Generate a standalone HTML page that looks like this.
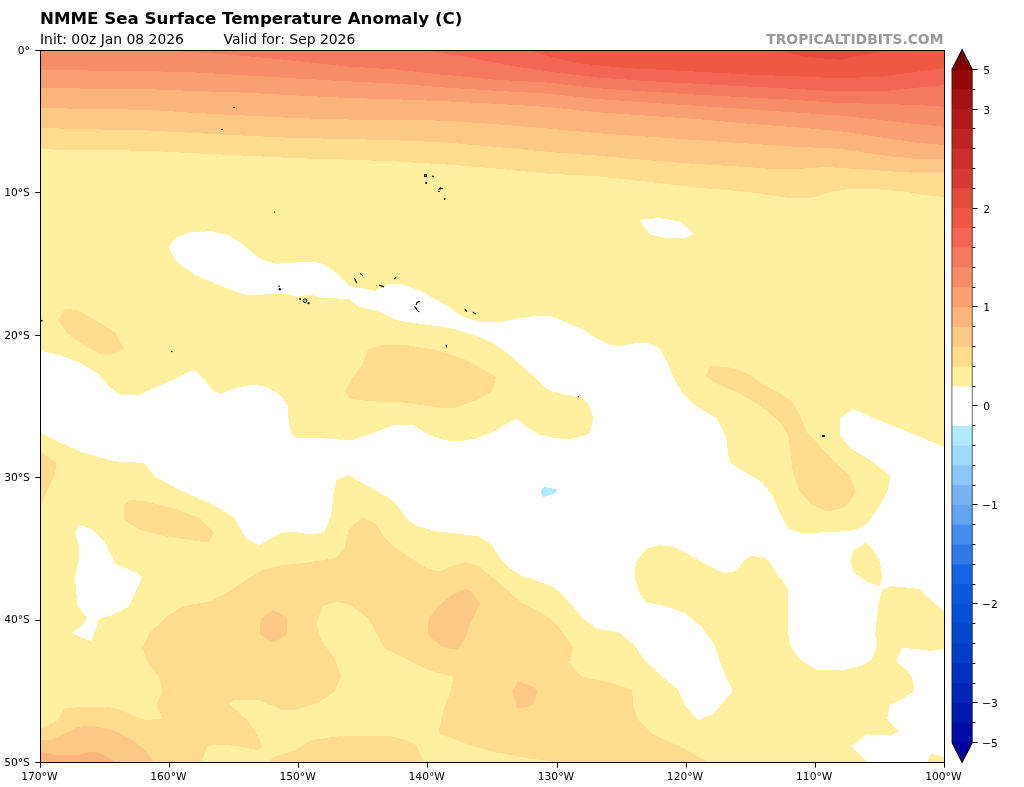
<!DOCTYPE html>
<html><head><meta charset="utf-8"><title>NMME Sea Surface Temperature Anomaly (C)</title>
<style>
html,body{margin:0;padding:0;background:#fff;}
body{width:1024px;height:787px;overflow:hidden;position:relative;font-family:"DejaVu Sans","Liberation Sans",sans-serif;color:#000;}
svg{position:absolute;left:0;top:0;display:block}
text{font-family:"DejaVu Sans","Liberation Sans",sans-serif;fill:#000}
.t{font-size:16.67px;font-weight:bold}
.s{font-size:13.9px}
.k{font-size:10.7px}
.w{font-size:13.9px;font-weight:bold;fill:#999}
</style></head><body>
<svg width="1024" height="787" viewBox="0 0 1024 787">
<defs><clipPath id="c"><rect x="40.5" y="50.5" width="904" height="712"/></clipPath></defs>
<rect width="1024" height="787" fill="#fff"/>
<g clip-path="url(#c)">
<rect x="40" y="50" width="905" height="713" fill="#FFF0A0"/>
<path d="M35,45 35,149.4 40,149.4 88.7,149.8 147,150.8 197,153.3 246,155.7 295,158.2 348,159.6 397,161.5 446,164.5 495,168.4 548,173.7 597,176.2 646,181.5 695,187.4 748,191.9 771.5,195.4 791,198.3 806.7,198.3 816.5,196.6 830,192 846,189.5 875,189 904.5,191.5 924,195 944,197 950,197 950,45Z" fill="#FEDC8E" shape-rendering="crispEdges"/>
<path d="M35,45 35,127.9 40,127.9 88.7,129.3 147,130.4 197,133.2 246,135.7 295,138 348,139 397,140.4 446,142.4 495,146.9 548,151.8 597,155.7 646,160 695,163.9 748,167.1 773,169 797,169 826,167 865,169.5 904.5,172.4 944,173.2 950,173.2 950,45Z" fill="#FBC885" shape-rendering="crispEdges"/>
<path d="M35,45 35,107.7 40,107.7 88.7,109.1 147,109.7 197,113 246,115.6 295,118.1 348,119.5 397,119.5 446,120.8 495,124 548,128.5 597,133.2 646,136.5 695,140 748,143.5 797,146.9 840,148.8 885,155.7 914,158.6 944,159.5 950,159.5 950,45Z" fill="#FBB47C" shape-rendering="crispEdges"/>
<path d="M35,45 35,87.6 40,87.6 88.7,88.7 147,89.1 197,91.1 246,92.7 295,95.4 348,98 397,99.3 446,101.3 495,103.8 548,107 597,112.2 646,115.6 695,118.9 748,123.7 797,127.3 840,131.2 885,138 914,142.4 944,145 950,145 950,45Z" fill="#F9A072" shape-rendering="crispEdges"/>
<path d="M35,45 35,69.6 40,69.6 88.7,70.5 147,71.1 197,72.5 246,75.4 295,78.4 348,81.3 397,83.7 446,87.6 495,90.7 548,93.7 597,99 646,102.4 695,105.8 748,109.2 797,112.6 840,115.5 885,120.5 914,124 944,126.7 950,126.7 950,45Z" fill="#F68D68" shape-rendering="crispEdges"/>
<path d="M150,45 150,45 158,50 226,54.3 285,59.8 348,66.6 397,69.6 446,75 495,79.7 548,82.6 597,88.2 646,91.5 695,94.6 748,97.5 797,100 840,103 885,104 914,105 944,106.7 950,106.7 950,45Z" fill="#F5795E" shape-rendering="crispEdges"/>
<path d="M415,45 415,45 424,50 465.4,56.8 504.5,64.7 548,71.5 597,77.4 646,81 695,83.7 748,86.5 797,89 840,91.5 885,91 914,88 944,85 950,85 950,45Z" fill="#F36654" shape-rendering="crispEdges"/>
<path d="M515,45 515,45 528,50 548,56 577,63.3 626,68 685,71 748,74.5 797,76.4 840,78.4 885,76.4 914,72 944,68 950,68 950,45Z" fill="#EF5842" shape-rendering="crispEdges"/>
<path d="M770,45 777,50 807,57 840,60 857.5,56 893,50 900,45Z" fill="#E24C3B" shape-rendering="crispEdges"/>
<path d="M168.8,247.5 176.3,237.5 190,232 212.5,231.3 227.5,235 240,242.5 260,258.8 275,263.8 296,262.5 316,261.8 326,265.5 338.5,275 349.4,285.9 360.2,287.7 370.8,290 375.5,290.9 379,289.1 388.9,284.2 401.2,284.2 405,285 421,291.3 446,305 463.5,317 481,322.5 501,322 521,318 538.5,315.5 552,316.5 564.5,322 582,328.8 597,338.8 609.5,344.5 619.5,346.3 634.5,343.3 648.3,343 660,348.8 668.3,365 674.5,380 682,392.5 694.5,405 717,418.8 725.8,436.3 729.5,462.5 762,482.5 772,495 779.1,511.5 788.3,528.6 802,533.2 831.8,532.1 854.6,530.2 867.2,524.1 879.8,505.8 887.8,490.9 890.5,476 870.6,460 851.2,448.6 839.8,434.9 839.9,418.4 853.2,409.1 884.1,422.5 915,434.9 950,449.5 950,616 944.8,612.1 919.1,589 891.8,585.9 882.3,589.5 878.8,601.4 875.2,634.6 876.9,646.5 871.6,659.6 862.1,665.5 843.1,670.3 817,670.3 801.6,660.8 790.9,647.7 788.5,634.6 788,589.5 782.6,580 778.3,576.8 772,565 764.5,557.5 752,555.8 744.5,560 737,570.5 724.5,573.3 709.5,566.3 692,556.3 674.5,547 659.5,545 645.8,548.8 635.8,562.5 634.5,576.8 638.3,591.3 645.8,602.5 664.5,606.3 684.5,612.5 702,627.5 714.5,645 722,667.5 732.8,691.3 713.3,713.8 698.3,720 685.8,706.3 678.3,690 662,676.3 644.5,660 634.5,645 619.5,632.5 597,628.8 582,617.5 562,593.8 552,586.3 531,578.8 523.5,576.8 508.5,567.5 501,560 492.3,545 478.5,536.3 458.5,533.8 436,531.3 416,525.5 407.3,519.5 398.5,507.5 388.5,497.5 368.5,486.3 348.5,475 336.5,480 334,490 331,516.3 323.5,532 311,534.5 296,532 282.5,532 259.5,545 246.3,538.8 235,518.8 222.5,510 202.5,500 180,490 155,476.3 143.8,463 115,461.3 82.5,452.5 60,442.5 35,430 35,349.4 40,350.6 60,355.5 80,363 97.5,373.2 110,387.5 120,394.5 137.5,395.5 152.5,388.8 170,381.3 182.5,375 193.8,370 202.5,377.5 212.5,390 220,393.8 237.5,387.5 252.5,384.5 265,386.3 280,395 287.5,405 288.8,422.5 291.3,433.8 296,437.5 321,438 351,440.5 371,433.8 396,424.5 413.5,425.5 428.5,434.5 443.5,440 456,441.3 476,438.8 493.5,432 506,423.8 517.3,418.8 526,426.3 538.5,434.5 552,437.5 569.5,439.5 589.5,433.8 593.3,418.8 588.3,403.8 579.5,396.3 567,395 552,391.3 543.5,386.3 533.5,376.3 521,365 508.5,353.8 491,342 471,333.8 453.5,328.8 421,323.8 396,320 378.5,311.3 358.5,306.3 349.8,299.5 328.5,297.6 322.7,297.9 313,295.3 306,295.2 298,297 290,295 284,293.4 280,293.8 265,294.5 245,294.5 225,287.5 195,275 176,261Z" fill="#FFFFFF" shape-rendering="crispEdges"/>
<path d="M950,648.5 944.8,648.9 931,650.8 902.5,647.7 895.9,662 904.9,667.9 912,677.4 914.4,690.5 902.5,698.8 890.2,704.7 887.1,719 899,732 890.6,735.6 866.9,734.4 851.4,746.3 866.9,761.7 872,768 925,768 927.5,761.7 931,753.9 944.8,757 950,758Z" fill="#FFFFFF" shape-rendering="crispEdges"/>
<path d="M640,220.8 645.8,218.8 659.5,218.3 679.5,221.3 693.8,233.8 684.5,238.3 664.5,237.5 649.5,234.3Z" fill="#FFFFFF" shape-rendering="crispEdges"/>
<path d="M78.8,525 91.3,528.8 105,542.5 115,563.8 127.5,568.8 142,576.3 136.3,590 128.8,606.3 112.5,615 98.8,618.8 91.3,641.3 71.3,633 80,627.5 87.5,618.8 77.5,605 75,577.5 78.8,560 79.5,546.3 75,533.8Z" fill="#FFFFFF" shape-rendering="crispEdges"/>
<path d="M866.1,542.4 853.5,550.4 850.1,561.8 854.6,573.3 866.1,581.3 879.8,586.5 882.5,575.5 879.8,561.8 872.9,549.2Z" fill="#FFF0A0" shape-rendering="crispEdges"/>
<path d="M541.1,490.3 544.1,487.2 546,487.2 551,488.3 555.8,489.3 557,490.3 557,491.9 555.8,492.8 550.8,494.5 546,496.4 543.1,496.9 542,494.8 541.1,492.8Z" fill="#B2EAFC" shape-rendering="crispEdges"/>
<path d="M58,320 65,308.8 77.5,310 95,320 115,332.5 123.8,348.8 115,353.8 102.5,354.5 87.5,347.5 67.5,333.8Z" fill="#FEDC8E" shape-rendering="crispEdges"/>
<path d="M368.5,348.8 383.5,344.5 408.5,345.5 436,350 466,360 496,377 492.3,391.3 476,400 456,407.5 438.5,407.5 403.5,402.5 371,401.3 349.8,398.8 344.8,391.3 351,380 362,365Z" fill="#FEDC8E" shape-rendering="crispEdges"/>
<path d="M705,376.3 710.8,365.8 727,367 740,370.4 750.3,375.1 762.6,384.4 779.1,392.6 791.5,400.9 799.7,415.3 806.9,432.8 818.2,444.1 834,461.2 850.1,476 855.8,490.9 851.2,500.1 843.2,508.1 827.2,511.5 811.2,504.6 799.7,490.9 792.9,472.6 788.4,435.9 781.2,423.5 768.8,412.2 752.4,400.9 737,392.5 717,383.8Z" fill="#FEDC8E" shape-rendering="crispEdges"/>
<path d="M35,448 40,451.3 56.3,462.5 55,475 47.5,490 40,506.3 35,510Z" fill="#FEDC8E" shape-rendering="crispEdges"/>
<path d="M123.8,505 130,500 145,501.3 175,508.8 200,518 213.8,532.5 208.8,542.5 190,540 165,536.3 140,530 123.8,520Z" fill="#FEDC8E" shape-rendering="crispEdges"/>
<path d="M262.5,570 247.5,578.8 227.5,592.5 210,601.3 182.5,606.3 168.8,615 150,632.5 142,647.5 148.8,665 158.8,676.3 162.5,691.3 156.3,705 162.5,718.8 145,720 135,716.3 122.5,710 107.5,707 87.5,707 65,708 57.5,720 47.5,726.3 35,730 35,768 710,768 707,761.3 682,747.5 652,733.8 638.3,720 633.3,706.3 632,690 609.5,682.5 582,677 569,662.5 573.3,647.5 562,631.3 552,620 541,612.5 521,602.5 496,580 487,573 479.8,566.3 466,562 451,566.3 439.8,571.3 428.5,568.8 416,561.3 396,548 383.5,536.3 376,523.8 362.3,517 348.5,530 344.8,547.5 336,557.5 321,560.5 296,564 282.5,565Z" fill="#FEDC8E" shape-rendering="crispEdges"/>
<path d="M228.8,703.8 235,699.5 260,700.5 282.5,710 296,710 321,701.3 334.8,691.3 341,676.3 334.8,658.8 321,640 316.5,623.8 322.3,606.3 336,602 351,605 368.5,618.8 384.8,648.8 406,658.8 428.5,670 453.5,677 451,690 443.5,710 438.5,733 468.5,745 496,752.5 531,758.8 552,761.3 562,768 425,768 423.5,761.3 416,745 406,740 391,736.3 346,735.5 311,740 296,750 275,756.3 268.8,761.3 266,768 200,768 201.3,761.3 207.5,746.3 220,744.5 237.5,746.3 257.5,750 262.5,747.5 257.5,735 247.5,720Z" fill="#FFF0A0" shape-rendering="crispEdges"/>
<path d="M272.9,610 285.8,616.2 286.9,618.5 286.9,633.6 285.4,635.8 274.3,641.8 271.1,641.8 260,634 260,624.3 261.4,618.9 270.7,610.9Z" fill="#FBC885" shape-rendering="crispEdges"/>
<path d="M465.5,588.9 470.6,590.6 480,604 474.9,614.3 470.6,622.9 466.3,635.7 461.2,646 456.9,649 449.2,648.6 440.6,646 428.2,634.9 428.6,618.6 437.2,607.4 450,596.3 460.3,590.6Z" fill="#FBC885" shape-rendering="crispEdges"/>
<path d="M517.8,681.2 522.9,682.9 534.1,687.2 537.2,691.5 533.2,704.4 529.8,706.6 517.8,708.6 515.2,702.6 512.3,691.5Z" fill="#FBC885" shape-rendering="crispEdges"/>
<path d="M35,740 40,740 52.5,739.5 77.5,727 90,725.5 112.5,730 132.5,740 145,750 153.8,761.3 156,768 35,768Z" fill="#FBC885" shape-rendering="crispEdges"/>
<path d="M35,750 40,751.3 55,755 77.5,755 93.8,751.3 105,755 113.8,761.3 118,768 35,768Z" fill="#FBB47C" shape-rendering="crispEdges"/>
<ellipse cx="234.1" cy="107.4" rx="1.0" ry="0.6" fill="#000"/>
<ellipse cx="222.0" cy="129.3" rx="1.0" ry="0.6" fill="#000"/>
<ellipse cx="274.6" cy="212.1" rx="0.8" ry="0.6" fill="#000"/>
<ellipse cx="171.8" cy="351.5" rx="0.8" ry="0.8" fill="#000"/>
<ellipse cx="41.7" cy="320.8" rx="1.1" ry="1.0" fill="#000"/>
<ellipse cx="578.4" cy="396.6" rx="0.6" ry="0.9" fill="#000"/>
<ellipse cx="823.5" cy="436.0" rx="1.7" ry="0.9" fill="#000"/>
<rect x="424.45" y="174.54999999999998" width="2.1" height="2.1" fill="#999" stroke="#111" stroke-width="0.9"/>
<ellipse cx="433.0" cy="176.3" rx="1.0" ry="0.8" fill="#000"/>
<ellipse cx="426.2" cy="183.0" rx="1.0" ry="0.9" fill="#000"/>
<path d="M438.9,189.3 440.2,188 442.8,188.5" fill="none" stroke="#000" stroke-width="1.1" stroke-linecap="round" stroke-linejoin="round"/>
<ellipse cx="440.2" cy="188.6" rx="1.2" ry="0.8" fill="#000"/>
<ellipse cx="439.0" cy="191.4" rx="0.9" ry="0.6" fill="#000"/>
<ellipse cx="444.7" cy="199.0" rx="0.8" ry="1.0" fill="#000"/>
<ellipse cx="279.0" cy="286.2" rx="0.9" ry="0.8" fill="#000"/>
<ellipse cx="279.7" cy="289.2" rx="1.1" ry="1.2" fill="#000"/>
<ellipse cx="300.0" cy="299.0" rx="0.9" ry="0.9" fill="#000"/>
<circle cx="305.0" cy="300.7" r="1.9" fill="#b9b9b9" stroke="#111" stroke-width="0.9"/>
<ellipse cx="308.5" cy="303.2" rx="1.2" ry="1.0" fill="#000"/>
<path d="M354.4,278.4 356.7,282.7" fill="none" stroke="#000" stroke-width="1.1" stroke-linecap="round" stroke-linejoin="round"/>
<path d="M360.5,273.9 362.6,275.7" fill="none" stroke="#000" stroke-width="1.1" stroke-linecap="round" stroke-linejoin="round"/>
<path d="M379.3,285.3 383.7,286.6" fill="none" stroke="#000" stroke-width="1.1" stroke-linecap="round" stroke-linejoin="round"/>
<path d="M394.4,278.7 395.8,277.6" fill="none" stroke="#000" stroke-width="1.1" stroke-linecap="round" stroke-linejoin="round"/>
<path d="M419.1,301.4 416.9,302.6 416.3,304.6" fill="none" stroke="#000" stroke-width="1.1" stroke-linecap="round" stroke-linejoin="round"/>
<path d="M414.8,306.6 416.2,308.6 417.3,310.6 419,311.6" fill="none" stroke="#000" stroke-width="1.1" stroke-linecap="round" stroke-linejoin="round"/>
<path d="M465.2,309.6 466.7,311.1" fill="none" stroke="#000" stroke-width="1.1" stroke-linecap="round" stroke-linejoin="round"/>
<path d="M473,312.3 475.7,313.9" fill="none" stroke="#000" stroke-width="1.1" stroke-linecap="round" stroke-linejoin="round"/>
<path d="M446.1,345.2 446.7,347" fill="none" stroke="#000" stroke-width="1.1" stroke-linecap="round" stroke-linejoin="round"/>
</g>
<rect x="40.5" y="50.5" width="904" height="712" fill="none" stroke="#000" stroke-width="1"/>
<path d="M40.50,762.5v5.2 M169.50,762.5v5.2 M298.50,762.5v5.2 M427.50,762.5v5.2 M557.50,762.5v5.2 M686.50,762.5v5.2 M815.50,762.5v5.2 M944.50,762.5v5.2 M40.5,50.50h-5.2 M40.5,192.50h-5.2 M40.5,335.50h-5.2 M40.5,477.50h-5.2 M40.5,620.50h-5.2 M40.5,762.50h-5.2" stroke="#000" stroke-width="1" fill="none"/>
<g>
<rect x="951.9" y="69.44" width="20.399999999999977" height="20.80" fill="#94080C"/>
<rect x="951.9" y="89.24" width="20.399999999999977" height="20.80" fill="#A31214"/>
<rect x="951.9" y="109.03" width="20.399999999999977" height="20.80" fill="#B01A1B"/>
<rect x="951.9" y="128.83" width="20.399999999999977" height="20.80" fill="#BD2424"/>
<rect x="951.9" y="148.62" width="20.399999999999977" height="20.80" fill="#C92F2C"/>
<rect x="951.9" y="168.42" width="20.399999999999977" height="20.80" fill="#D43A34"/>
<rect x="951.9" y="188.22" width="20.399999999999977" height="20.80" fill="#E24C3B"/>
<rect x="951.9" y="208.01" width="20.399999999999977" height="20.80" fill="#EF5842"/>
<rect x="951.9" y="227.81" width="20.399999999999977" height="20.80" fill="#F36654"/>
<rect x="951.9" y="247.60" width="20.399999999999977" height="20.80" fill="#F5795E"/>
<rect x="951.9" y="267.39" width="20.399999999999977" height="20.80" fill="#F68D68"/>
<rect x="951.9" y="287.19" width="20.399999999999977" height="20.80" fill="#F9A072"/>
<rect x="951.9" y="306.99" width="20.399999999999977" height="20.80" fill="#FBB47C"/>
<rect x="951.9" y="326.78" width="20.399999999999977" height="20.80" fill="#FBC885"/>
<rect x="951.9" y="346.57" width="20.399999999999977" height="20.80" fill="#FEDC8E"/>
<rect x="951.9" y="366.37" width="20.399999999999977" height="20.80" fill="#FFF0A0"/>
<rect x="951.9" y="386.17" width="20.399999999999977" height="20.80" fill="#FFFFFF"/>
<rect x="951.9" y="405.96" width="20.399999999999977" height="20.80" fill="#FFFFFF"/>
<rect x="951.9" y="425.75" width="20.399999999999977" height="20.80" fill="#B2EAFC"/>
<rect x="951.9" y="445.55" width="20.399999999999977" height="20.80" fill="#A0DAFA"/>
<rect x="951.9" y="465.35" width="20.399999999999977" height="20.80" fill="#8CC6F6"/>
<rect x="951.9" y="485.14" width="20.399999999999977" height="20.80" fill="#78B2F2"/>
<rect x="951.9" y="504.94" width="20.399999999999977" height="20.80" fill="#62A4F0"/>
<rect x="951.9" y="524.73" width="20.399999999999977" height="20.80" fill="#468CEC"/>
<rect x="951.9" y="544.53" width="20.399999999999977" height="20.80" fill="#2E78E8"/>
<rect x="951.9" y="564.32" width="20.399999999999977" height="20.80" fill="#1464E4"/>
<rect x="951.9" y="584.12" width="20.399999999999977" height="20.80" fill="#0A58DC"/>
<rect x="951.9" y="603.91" width="20.399999999999977" height="20.80" fill="#0650D6"/>
<rect x="951.9" y="623.71" width="20.399999999999977" height="20.80" fill="#0546CC"/>
<rect x="951.9" y="643.50" width="20.399999999999977" height="20.80" fill="#043CC4"/>
<rect x="951.9" y="663.30" width="20.399999999999977" height="20.80" fill="#0332BC"/>
<rect x="951.9" y="683.09" width="20.399999999999977" height="20.80" fill="#0226B4"/>
<rect x="951.9" y="702.88" width="20.399999999999977" height="20.80" fill="#0118AC"/>
<rect x="951.9" y="722.68" width="20.399999999999977" height="19.80" fill="#000CA6"/>
</g>
<path d="M951.9,70.14V69.44L962.0999999999999,49.65L972.3,69.44v0.7Z" fill="#800000"/>
<path d="M951.9,741.77V742.48L962.0999999999999,762.27L972.3,742.48v-0.7Z" fill="#0000A0"/>
<path d="M951.9,69.44V742.48M972.3,69.44V742.48" fill="none" stroke="#000" stroke-opacity="0.75" stroke-width="0.8"/>
<path d="M951.9,69.44L962.0999999999999,49.65L972.3,69.44M951.9,742.48L962.0999999999999,762.27L972.3,742.48" fill="none" stroke="#000" stroke-width="1.1" stroke-linejoin="miter"/>
<path d="M972.3,69.50h5.3 M972.3,89.50h3.1 M972.3,109.50h5.3 M972.3,128.50h3.1 M972.3,148.50h3.1 M972.3,168.50h3.1 M972.3,188.50h3.1 M972.3,208.50h5.3 M972.3,227.50h3.1 M972.3,247.50h3.1 M972.3,267.50h3.1 M972.3,287.50h3.1 M972.3,306.50h5.3 M972.3,326.50h3.1 M972.3,346.50h3.1 M972.3,366.50h3.1 M972.3,386.50h3.1 M972.3,405.50h5.3 M972.3,425.50h3.1 M972.3,445.50h3.1 M972.3,465.50h3.1 M972.3,485.50h3.1 M972.3,504.50h5.3 M972.3,524.50h3.1 M972.3,544.50h3.1 M972.3,564.50h3.1 M972.3,584.50h3.1 M972.3,603.50h5.3 M972.3,623.50h3.1 M972.3,643.50h3.1 M972.3,663.50h3.1 M972.3,683.50h3.1 M972.3,702.50h5.3 M972.3,722.50h3.1 M972.3,742.50h5.3" stroke="#000" stroke-width="1" fill="none"/>
<g style="filter:grayscale(1)">
<text class="k" x="39.3" y="780" text-anchor="middle">170°W</text>
<text class="k" x="168.4" y="780" text-anchor="middle">160°W</text>
<text class="k" x="297.6" y="780" text-anchor="middle">150°W</text>
<text class="k" x="426.7" y="780" text-anchor="middle">140°W</text>
<text class="k" x="555.9" y="780" text-anchor="middle">130°W</text>
<text class="k" x="685.0" y="780" text-anchor="middle">120°W</text>
<text class="k" x="814.2" y="780" text-anchor="middle">110°W</text>
<text class="k" x="943.3" y="780" text-anchor="middle">100°W</text>
<text class="k" x="29.9" y="53.7" text-anchor="end">0°</text>
<text class="k" x="29.9" y="196.1" text-anchor="end">10°S</text>
<text class="k" x="29.9" y="338.5" text-anchor="end">20°S</text>
<text class="k" x="29.9" y="480.9" text-anchor="end">30°S</text>
<text class="k" x="29.9" y="623.3" text-anchor="end">40°S</text>
<text class="k" x="29.9" y="765.7" text-anchor="end">50°S</text>
<text class="t" x="40" y="24">NMME Sea Surface Temperature Anomaly (C)</text>
<text class="s" x="40" y="44">Init: 00z Jan 08 2026</text>
<text class="s" x="223.5" y="44">Valid for: Sep 2026</text>
<text class="w" x="943.5" y="44" text-anchor="end">TROPICALTIDBITS.COM</text>
<text class="k" x="983.2" y="73.9">5</text>
<text class="k" x="983.2" y="113.9">3</text>
<text class="k" x="983.2" y="212.9">2</text>
<text class="k" x="983.2" y="310.9">1</text>
<text class="k" x="983.2" y="409.9">0</text>
<text class="k" x="982.0" y="508.9">−1</text>
<text class="k" x="982.0" y="607.9">−2</text>
<text class="k" x="982.0" y="706.9">−3</text>
<text class="k" x="982.0" y="746.9">−5</text>
</g>
</svg>
</body></html>
